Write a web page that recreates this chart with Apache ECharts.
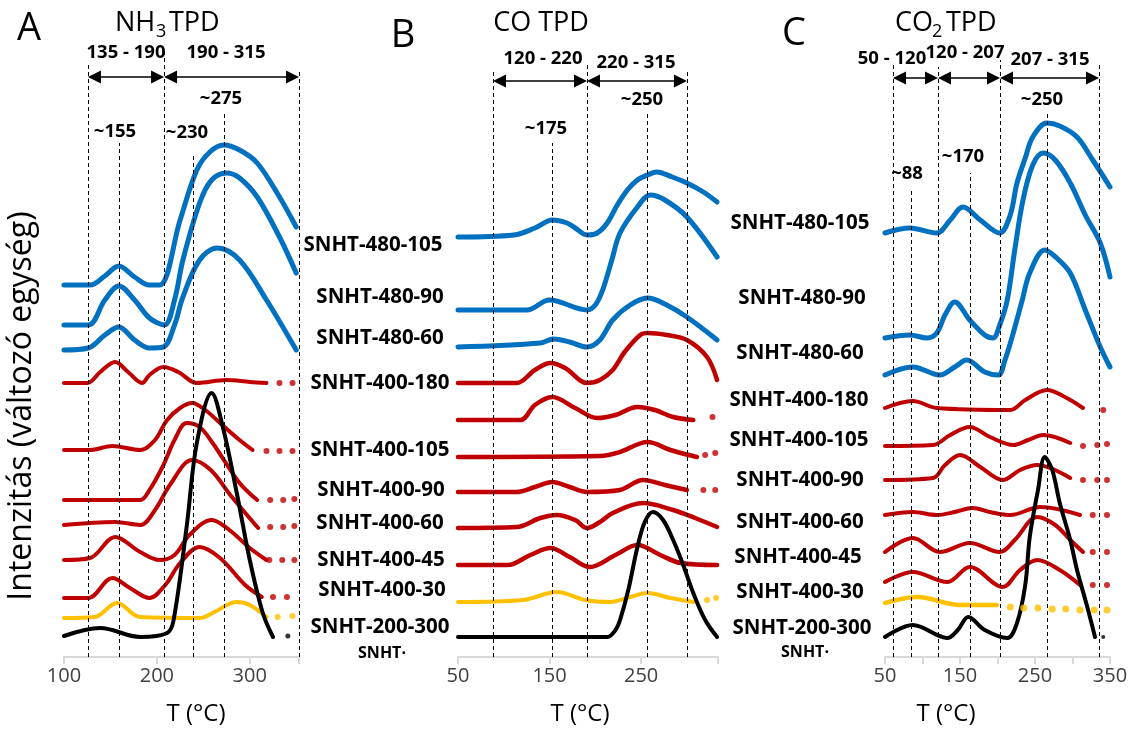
<!DOCTYPE html>
<html><head><meta charset="utf-8">
<script src="https://cdn.jsdelivr.net/npm/echarts@6/dist/echarts.min.js"></script>
<style>html,body{margin:0;padding:0;background:#fff}#c{width:1137px;height:753px}</style>
</head><body><div id="c"></div><script>
// ---------- DATA: [T (°C), intensity incl. stacking offset (a.u.)] ----------
// Panel A – NH3 TPD
const nh3_480_105 = [[100,372],[128,372],[144,381],[159,391],[176,380],[192,372],[203,372],[225,437],[243,487],[257,505],[272,512],[289,507],[308,494],[332,460],[350,430]];
const nh3_480_90  = [[100,332],[126,332],[144,357],[159,371],[176,357],[192,339],[208,332],[219,357],[228,397],[246,454],[259,477],[275,484],[289,479],[308,460],[332,420],[350,384]];
const nh3_480_60  = [[100,307],[126,309],[144,322],[159,330],[176,317],[192,309],[207,310],[219,332],[228,360],[246,397],[265,409],[289,397],[318,357],[350,307]];
const nh3_400_180 = [[100,274],[125,274],[139,285],[155,295],[169,285],[184,274],[192,282],[207,290],[223,285],[243,274],[275,277],[300,275],[318,274]];
const nh3_400_105 = [[100,207],[128,207],[152,211],[182,207],[198,217],[211,237],[225,249],[238,254],[252,247],[268,234],[289,217],[303,207]];
const nh3_400_90  = [[100,157],[182,157],[192,167],[206,190],[219,217],[232,234],[246,230],[260,214],[289,174],[308,157]];
const nh3_400_60  = [[100,132],[155,135],[182,132],[198,147],[214,172],[238,197],[258,187],[279,162],[309,129]];
const nh3_400_45  = [[100,97],[128,99],[155,120],[182,105],[203,97],[219,102],[235,122],[259,137],[278,127],[300,109],[318,97]];
const nh3_400_30  = [[100,59],[126,59],[152,79],[171,69],[192,59],[209,72],[225,94],[246,110],[268,99],[295,72],[313,60]];
const nh3_200_300 = [[100,39],[133,40],[157,54],[182,40],[246,39],[262,45],[286,55],[300,52],[318,40]];
const nh3_snht    = [[100,21],[139,29],[182,20],[211,24],[218,37],[232,130],[243,214],[259,264],[271,230],[286,164],[300,97],[314,44],[325,20]];
const nh3_dots_400_180 = [[332,274],[346,274]];
const nh3_dots_400_105 = [[318,206],[332,206],[346,206]];
const nh3_dots_400_90  = [[322,157],[336,157],[348,158]];
const nh3_dots_400_60  = [[322,130],[336,130],[348,131]];
const nh3_dots_400_45  = [[321,97],[335,97],[348,97]];
const nh3_dots_400_30  = [[325,60],[340,60]];
const nh3_dots_200_300 = [[330,40],[346,41]];
const nh3_dots_snht    = [[341,21]];

// Panel B – CO TPD
const co_480_105 = [[50,420],[111,422],[134,429],[153,437],[169,434],[178,429],[191,422],[202,424],[213,434],[224,452],[235,467],[246,477],[257,482],[267,485],[284,480],[300,474],[318,465],[333,455]];
const co_480_90  = [[50,347],[125,347],[150,357],[191,347],[200,352],[208,367],[218,397],[227,424],[246,450],[260,462],[276,457],[300,440],[333,400]];
const co_480_60  = [[50,310],[140,314],[154,318],[172,315],[191,310],[205,317],[219,337],[238,352],[257,359],[278,352],[300,340],[333,317]];
const co_400_180 = [[50,274],[114,274],[134,287],[151,294],[167,289],[191,274],[205,277],[219,287],[232,305],[249,322],[257,324],[278,322],[300,317],[322,300],[333,277]];
const co_400_x   = [[50,237],[118,237],[134,252],[153,260],[178,249],[202,239],[222,242],[246,250],[265,247],[285,240],[307,237]];
const co_400_105 = [[50,200],[205,201],[227,205],[257,215],[282,207],[311,200]];
const co_400_90  = [[50,165],[114,165],[134,170],[153,175],[172,170],[191,165],[227,167],[252,177],[276,172],[300,167]];
const co_400_60  = [[50,129],[114,130],[140,139],[158,142],[178,137],[191,129],[205,135],[219,144],[252,154],[285,147],[309,139],[333,130]];
const co_400_45  = [[50,92],[104,92],[129,102],[151,109],[172,100],[194,90],[222,102],[246,112],[271,102],[293,94],[333,92]];
const co_400_30  = [[50,55],[121,57],[158,65],[189,57],[216,55],[238,60],[257,64],[282,59],[307,55]];
const co_200_300 = [[50,20],[213,20],[222,27],[227,37],[236,67],[246,110],[254,135],[263,145],[274,137],[285,117],[296,92],[307,64],[320,37],[333,20]];
const co_dots_400_x   = [[328,240]];
const co_dots_400_105 = [[320,202],[331,204]];
const co_dots_400_90  = [[318,167],[331,167]];
const co_dots_400_30  = [[322,57],[332,59]];

// Panel C – CO2 TPD
const co2_480_105 = [[50,424],[83,429],[119,424],[137,437],[154,450],[177,437],[203,424],[217,442],[226,474],[237,499],[247,520],[266,534],[283,531],[306,520],[327,497],[350,470]];
const co2_480_90  = [[50,319],[83,322],[106,319],[119,324],[130,342],[143,355],[163,337],[183,322],[194,319],[203,332],[213,357],[223,407],[234,457],[247,492],[261,504],[277,497],[297,474],[317,442],[337,414],[350,380]];
const co2_480_60  = [[50,282],[87,290],[123,282],[143,290],[159,297],[183,285],[201,282],[210,297],[221,324],[233,357],[243,384],[263,407],[279,399],[297,384],[317,347],[337,310],[350,290]];
const co2_400_180 = [[50,249],[87,256],[119,249],[217,247],[237,257],[266,267],[290,260],[314,249]];
const co2_400_105 = [[50,211],[114,212],[137,222],[163,230],[190,220],[221,212],[241,217],[261,222],[297,214]];
const co2_400_90  = [[50,177],[114,179],[130,192],[150,202],[177,190],[207,177],[230,187],[253,192],[297,179]];
const co2_400_60  = [[50,142],[87,145],[119,142],[143,145],[167,149],[190,145],[217,142],[257,150],[310,142]];
const co2_400_45  = [[50,105],[87,119],[123,105],[163,114],[203,105],[223,117],[253,140],[277,132],[297,117],[314,105]];
const co2_400_30  = [[50,75],[87,85],[133,75],[163,90],[207,70],[230,87],[253,97],[283,87],[310,72]];
const co2_200_300 = [[50,54],[93,60],[150,52],[199,52]];
const co2_snht    = [[50,20],[87,32],[133,19],[147,27],[161,40],[183,27],[213,19],[226,34],[237,72],[243,120],[254,167],[263,200],[273,187],[283,154],[297,117],[306,87],[319,52],[330,20]];
const co2_dots_400_180 = [[341,247]];
const co2_dots_400_105 = [[314,211],[333,212],[346,213]];
const co2_dots_400_90  = [[314,177],[333,177],[346,177]];
const co2_dots_400_60  = [[327,142],[346,142]];
const co2_dots_400_45  = [[327,105],[346,105]];
const co2_dots_400_30  = [[327,72],[346,72]];
const co2_dots_200_300 = [[217,50],[235,49],[254,49],[273,48],[291,48],[310,47],[329,47],[346,47]];
const co2_dots_snht    = [[341,20]];

// Reference lines: [T, top of line (a.u.)]
const nh3_dash = [[125.8,594],[159.2,514],[207.7,607],[238.9,504],[272.2,545],[353,587]];
const co_dash  = [[88.2,587],[152.6,514],[190.9,592],[256.4,544],[300.1,587]];
const co2_dash = [[60.7,592],[84.7,469],[120.7,590],[163.3,484],[203.3,597],[266,544],[335.3,594]];
// Range arrows: [from T, to T, level]
const nh3_ranges = [[125.8,207.7,580],[207.7,353,580]];
const co_ranges  = [[88.2,190.9,576],[190.9,300.1,576]];
const co2_ranges = [[60.7,120.7,579],[120.7,203.3,579],[203.3,335.3,579]];
const nh3_rangeLabels = ['135 - 190','190 - 315'];
const co_rangeLabels  = ['120 - 220','220 - 315'];
const co2_rangeLabels = ['50 - 120','120 - 207','207 - 315'];
const nh3_peakLabels = ['~155','~230','~275'];
const co_peakLabels  = ['~175','~250'];
const co2_peakLabels = ['~88','~170','~250'];
const sampleLabels = ['SNHT-480-105','SNHT-480-90','SNHT-480-60','SNHT-400-180','SNHT-400-105','SNHT-400-90','SNHT-400-60','SNHT-400-45','SNHT-400-30','SNHT-200-300','SNHT·'];
const nh3_ticks = [100,200,300];
const co_ticks  = [50,150,250];
const co2_ticks = [50,150,250,350];

// ---------- CHART ----------
const BLUE='#0070C0', RED='#C00000', YEL='#FFC000', BLK='#000000';
const OS='"Open Sans", sans-serif';
const grids = [
  {left:64, width:235, top:0, bottom:96, min:100, max:353, ticks:nh3_ticks, int:100},
  {left:458, width:260, top:0, bottom:96, min:50, max:334, ticks:co_ticks, int:100},
  {left:885, width:225, top:0, bottom:96, min:50, max:350, ticks:co2_ticks, int:50}
];
const series = [];
function curve(g, data, color, w){ series.push({type:'line', xAxisIndex:g, yAxisIndex:g, data, smooth:0.35, showSymbol:false, silent:true, animation:false, clip:false, lineStyle:{color, width:w, cap:'round', join:'round'}, z:2}); }
function dots(g, data, color, s){ series.push({type:'scatter', xAxisIndex:g, yAxisIndex:g, data, symbol:'circle', symbolSize:s, silent:true, animation:false, itemStyle:{color}, z:2}); }
function refs(g, dash, ranges){
  const ppu = grids[g].width/(grids[g].max-grids[g].min);
  const ins = 6.5/ppu;
  series.push({type:'line', xAxisIndex:g, yAxisIndex:g, data:[[grids[g].min,0]], showSymbol:false, lineStyle:{opacity:0}, silent:true, animation:false, z:5,
    markLine:{silent:true, animation:false, symbol:'none', label:{show:false}, lineStyle:{type:[4,3], color:'#000', width:1},
      data: dash.map(d=>[{coord:[d[0],0]},{coord:[d[0],d[1]]}])}});
  series.push({type:'line', xAxisIndex:g, yAxisIndex:g, data:[[grids[g].min,0]], showSymbol:false, lineStyle:{opacity:0}, silent:true, animation:false, z:6,
    markLine:{silent:true, animation:false, symbol:['triangle','triangle'], symbolSize:[13,13], label:{show:false}, lineStyle:{type:'solid', color:'#000', width:1.5}, itemStyle:{color:'#000'},
      data: ranges.map(r=>[{coord:[r[0]+ins,r[2]]},{coord:[r[1]-ins,r[2]]}])}});
}
// Panel A
[nh3_480_105,nh3_480_90,nh3_480_60].forEach(d=>curve(0,d,BLUE,5));
[nh3_400_180,nh3_400_105,nh3_400_90,nh3_400_60,nh3_400_45,nh3_400_30].forEach(d=>curve(0,d,RED,4));
[nh3_dots_400_180,nh3_dots_400_105,nh3_dots_400_90,nh3_dots_400_60,nh3_dots_400_45,nh3_dots_400_30].forEach(d=>dots(0,d,RED,6));
curve(0,nh3_200_300,YEL,4); dots(0,nh3_dots_200_300,YEL,6);
curve(0,nh3_snht,BLK,4); dots(0,nh3_dots_snht,BLK,5);
refs(0,nh3_dash,nh3_ranges);
// Panel B
[co_480_105,co_480_90,co_480_60].forEach(d=>curve(1,d,BLUE,5));
[co_400_180,co_400_x,co_400_105,co_400_90,co_400_60,co_400_45].forEach(d=>curve(1,d,RED,4.5));
[co_dots_400_x,co_dots_400_105,co_dots_400_90].forEach(d=>dots(1,d,RED,6));
curve(1,co_400_30,YEL,4); dots(1,co_dots_400_30,YEL,6);
curve(1,co_200_300,BLK,4);
refs(1,co_dash,co_ranges);
// Panel C
[co2_480_105,co2_480_90,co2_480_60].forEach(d=>curve(2,d,BLUE,5));
[co2_400_180,co2_400_105,co2_400_90,co2_400_60,co2_400_45,co2_400_30].forEach(d=>curve(2,d,RED,4));
[co2_dots_400_180,co2_dots_400_105,co2_dots_400_90,co2_dots_400_60,co2_dots_400_45,co2_dots_400_30].forEach(d=>dots(2,d,RED,6));
curve(2,co2_200_300,YEL,4.5); dots(2,co2_dots_200_300,YEL,7);
curve(2,co2_snht,BLK,4); dots(2,co2_dots_snht,BLK,4);
refs(2,co2_dash,co2_ranges);

const xAxis = grids.map((g,i)=>({type:'value', gridIndex:i, min:g.min, max:g.max, interval:g.int,
  axisLine:{show:true, lineStyle:{color:'#d9d9d9', width:2}},
  axisTick:{show:true, length:7, lineStyle:{color:'#d9d9d9', width:2}},
  splitLine:{show:false},
  axisLabel:{color:'#404040', fontFamily:OS, fontSize:20, margin:9, showMaxLabel:true,
    formatter: v => g.ticks.indexOf(v)>=0 ? String(v) : ''}}));
const yAxis = grids.map((g,i)=>({type:'value', gridIndex:i, min:0, max:657, show:false}));

function T(text, x, y, o){ return Object.assign({type:'text', x, y, silent:true, style:Object.assign({text, fill:'#000', font:'normal 20px '+OS, textAlign:'center', textVerticalAlign:'middle', align:'center', verticalAlign:'middle'}, o||{})}); }
function TL(text, x, y, size, weight){ return T(text, x, y, {font:(weight||'normal')+' '+size+'px '+OS, textAlign:'left', align:'left'}); }
const B18 = 'bold 18.5px '+OS;
const SL = 'bold 20.5px '+OS;
const graphic = [
  T('A', 29, 29, {font:'normal 38px '+OS}),
  T('B', 403, 36, {font:'normal 38px '+OS}),
  T('C', 794, 34, {font:'normal 38px '+OS}),
  TL('NH', 115, 23, 27), TL('3', 156, 32, 18), TL('TPD', 169, 23, 27),
  T('CO TPD', 541, 23, {font:'normal 27px '+OS}),
  TL('CO', 895, 23, 27), TL('2', 932, 32, 18), TL('TPD', 946, 23, 27),
  T(nh3_rangeLabels[0], 126, 53, {font:B18}), T(nh3_rangeLabels[1], 226, 53, {font:B18}),
  T(co_rangeLabels[0], 543, 59, {font:B18}), T(co_rangeLabels[1], 636, 63, {font:B18}),
  T(co2_rangeLabels[0], 892, 59, {font:B18}), T(co2_rangeLabels[1], 965, 53, {font:B18}), T(co2_rangeLabels[2], 1050, 60, {font:B18}),
  T(nh3_peakLabels[0], 115, 132, {font:B18}), T(nh3_peakLabels[1], 187, 133, {font:B18}), T(nh3_peakLabels[2], 221, 99, {font:B18}),
  T(co_peakLabels[0], 546, 129, {font:B18}), T(co_peakLabels[1], 642, 100, {font:B18}),
  T(co2_peakLabels[0], 907, 174, {font:B18}), T(co2_peakLabels[1], 963, 157, {font:B18}), T(co2_peakLabels[2], 1042, 100, {font:B18}),
  T('T (°C)', 196, 714, {font:'normal 24px '+OS}),
  T('T (°C)', 580, 714, {font:'normal 24px '+OS}),
  T('T (°C)', 946, 714, {font:'normal 24px '+OS}),
  Object.assign(T('Intenzitás (változó egység)', 22, 406, {font:'normal 32px '+OS}), {rotation:Math.PI/2})
];
const midY = [245,297,338,383,450,490,523,560,590,627,653];
const midX = [373,380,380,380,380,381,380,381,382,380,382];
const rightY = [223,298,353,400,440,480,522,557,592,628,652];
const rightX = [800,802,800,799,799,800,800,798,800,802,805];
sampleLabels.forEach((s,i)=>{
  const f = i===sampleLabels.length-1 ? 'bold 16px '+OS : SL;
  graphic.push(T(s, midX[i], midY[i], {font:f}));
  graphic.push(T(s, rightX[i], rightY[i], {font:f}));
});

const chart = echarts.init(document.getElementById('c'), null, {renderer:'canvas'});
chart.setOption({animation:false, backgroundColor:'#fff',
  grid: grids.map(g=>({left:g.left, width:g.width, top:g.top, bottom:g.bottom})),
  xAxis, yAxis, series, graphic});
</script></body></html>
